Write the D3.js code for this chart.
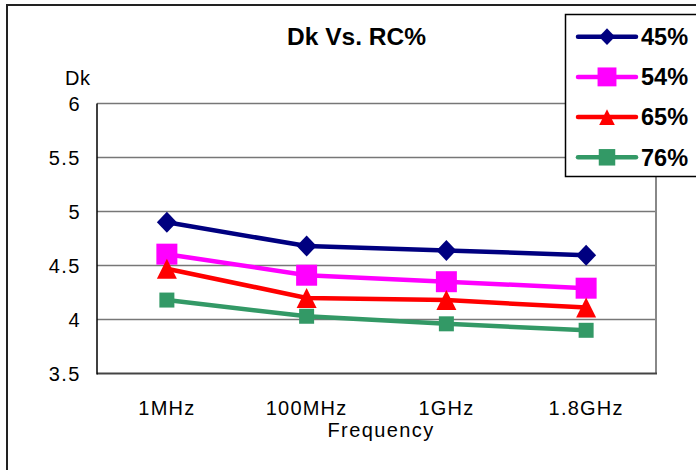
<!DOCTYPE html>
<html>
<head>
<meta charset="utf-8">
<script src="https://cdn.jsdelivr.net/npm/d3@7"></script>
<style>
body { margin: 0; background: #fff; }
text { font-family: "Liberation Sans", Arial, sans-serif; fill: #000; }
</style>
</head>
<body>
<div id="graph"></div>
<script>
var width = 696
var height = 470

var categories = ["1MHz", "100MHz", "1GHz", "1.8GHz"];
var seriesNames = ["45%", "54%", "65%", "76%"];
var dk45 = [4.90, 4.68, 4.64, 4.595];
var dk54 = [4.605, 4.41, 4.35, 4.29];
var dk65 = [4.47, 4.20, 4.18, 4.11];
var dk76 = [4.18, 4.03, 3.96, 3.90];
var yTicks = [3.5, 4, 4.5, 5, 5.5, 6];

var series = [
	{ name: seriesNames[0], values: dk45, color: "#000080", marker: "diamond", legendScale: 0.8 },
	{ name: seriesNames[1], values: dk54, color: "#ff00ff", marker: "bigsquare", legendScale: 0.9 },
	{ name: seriesNames[2], values: dk65, color: "#ff0000", marker: "triangle", legendScale: 0.78 },
	{ name: seriesNames[3], values: dk76, color: "#339966", marker: "square", legendScale: 1.1 }
];

var plot = { left: 97, right: 656, top: 103.5, bottom: 373.5 };

var svg = d3.select("#graph")
	.append("svg")
	.attr("width", width)
	.attr("height", height);

// outer chart frame (cut off at right and bottom)
svg.append("path")
	.attr("d", "M7,470 V5 H696")
	.attr("fill", "none")
	.attr("stroke", "#222")
	.attr("stroke-width", 2);

var x = d3.scaleBand()
	.domain(categories)
	.range([plot.left, plot.right]);

var y = d3.scaleLinear()
	.domain([3.5, 6])
	.range([plot.bottom, plot.top]);

// gridlines
svg.append("g")
	.selectAll("line")
	.data(yTicks.slice(1))
	.enter()
	.append("line")
	.attr("x1", plot.left)
	.attr("x2", plot.right)
	.attr("y1", (d) => y(d))
	.attr("y2", (d) => y(d))
	.attr("stroke", "#777")
	.attr("stroke-width", 1.3);

// plot area borders
svg.append("line")
	.attr("x1", plot.right).attr("x2", plot.right)
	.attr("y1", plot.top).attr("y2", plot.bottom)
	.attr("stroke", "#888").attr("stroke-width", 2);
svg.append("line")
	.attr("x1", plot.left).attr("x2", plot.right + 1)
	.attr("y1", plot.bottom).attr("y2", plot.bottom)
	.attr("stroke", "#444").attr("stroke-width", 2);
svg.append("line")
	.attr("x1", plot.left).attr("x2", plot.left)
	.attr("y1", plot.top).attr("y2", plot.bottom + 1)
	.attr("stroke", "#000").attr("stroke-width", 1.5);

// y tick labels
svg.append("g")
	.selectAll("text")
	.data(yTicks)
	.enter()
	.append("text")
	.attr("x", 81)
	.attr("y", (d) => y(d) + 7)
	.attr("text-anchor", "end")
	.style("font-size", "20px")
	.style("letter-spacing", "1.5px")
	.text((d) => d);

svg.append("text")
	.attr("x", 65)
	.attr("y", 85)
	.style("font-size", "20px")
	.style("letter-spacing", "0.5px")
	.text("Dk");

// x tick labels
svg.append("g")
	.selectAll("text")
	.data(categories)
	.enter()
	.append("text")
	.attr("x", (d) => x(d) + x.bandwidth() / 2)
	.attr("y", 415)
	.attr("text-anchor", "middle")
	.style("font-size", "20px")
	.style("letter-spacing", "1.2px")
	.text((d) => d);

svg.append("text")
	.attr("x", 381)
	.attr("y", 437)
	.attr("text-anchor", "middle")
	.style("font-size", "20px")
	.style("letter-spacing", "1.4px")
	.text("Frequency");

svg.append("text")
	.attr("x", 356.5)
	.attr("y", 45)
	.attr("text-anchor", "middle")
	.style("font-size", "24.5px")
	.style("font-weight", "bold")
	.text("Dk Vs. RC%");

// marker shapes, centred on their box like spreadsheet markers
var markerPath = function (m, scale) {
	var k = scale || 1;
	if (m === "diamond") {
		var w = 10 * k, h = 10.5 * k;
		return "M0," + (-h) + "L" + w + ",0L0," + h + "L" + (-w) + ",0Z";
	}
	if (m === "triangle") {
		var t = 10 * k;
		return "M0," + (-t) + "L" + t + "," + t + "L" + (-t) + "," + t + "Z";
	}
	var s = (m === "bigsquare" ? 10.5 : 7.5) * k;
	return "M" + (-s) + "," + (-s) + "H" + s + "V" + s + "H" + (-s) + "Z";
};

var line = d3.line()
	.x((d, i) => x(categories[i]) + x.bandwidth() / 2)
	.y((d) => y(d));

series.forEach(function (s) {
	var g = svg.append("g");
	g.append("path")
		.attr("d", line(s.values))
		.attr("fill", "none")
		.attr("stroke", s.color)
		.attr("stroke-width", 4.5);
	g.selectAll("path.marker")
		.data(s.values)
		.enter()
		.append("path")
		.attr("class", "marker")
		.attr("transform", (d, i) => "translate(" + (x(categories[i]) + x.bandwidth() / 2) + "," + y(d) + ")")
		.attr("d", markerPath(s.marker))
		.attr("fill", s.color);
});

// legend
var legend = svg.append("g");
legend.append("rect")
	.attr("x", 565.5)
	.attr("y", 14.5)
	.attr("width", 140)
	.attr("height", 162)
	.attr("fill", "#fff")
	.attr("stroke", "#000")
	.attr("stroke-width", 1.5);

var legendItem = legend.selectAll("g.item")
	.data(series)
	.enter()
	.append("g")
	.attr("class", "item")
	.attr("transform", (d, i) => "translate(0," + (36.7 + i * 40.2) + ")");

legendItem.append("line")
	.attr("x1", 578)
	.attr("x2", 636)
	.attr("stroke", (d) => d.color)
	.attr("stroke-width", 4.5)
	.attr("stroke-linecap", "round");

legendItem.append("path")
	.attr("transform", "translate(607,0)")
	.attr("d", (d) => markerPath(d.marker, d.legendScale))
	.attr("fill", (d) => d.color);

legendItem.append("text")
	.attr("x", 641)
	.attr("y", 8.3)
	.style("font-size", "23.5px")
	.style("font-weight", "bold")
	.text((d) => d.name);
</script>
</body>
</html>
